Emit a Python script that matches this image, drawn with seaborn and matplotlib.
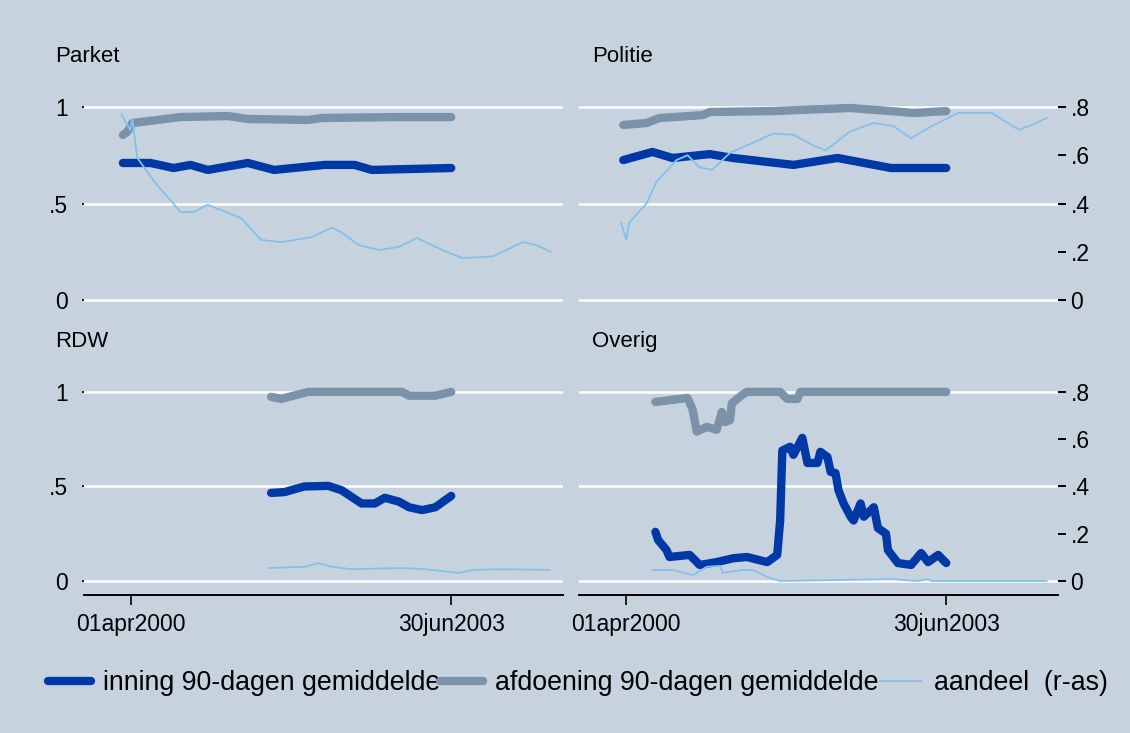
import numpy as np
import pandas as pd
import seaborn as sns
from matplotlib import pyplot as plt
from matplotlib.lines import Line2D

# colours
BG = '#c6d3df'
C_INNING = '#0039a6'
C_AFDOEN = '#7b92a9'
C_AANDEEL = '#86c0ea'

# ---- Parket
parket_inning_x = ['2000-03-01', '2000-06-11', '2000-09-05', '2000-11-07', '2001-01-09', '2001-06-07',
                   '2001-09-12', '2002-03-18', '2002-07-07', '2002-09-09', '2003-06-30']
parket_inning = [0.71, 0.71, 0.684, 0.70, 0.674, 0.71, 0.674, 0.70, 0.70, 0.674, 0.684]
parket_afdoen_x = ['2000-03-01', '2000-03-17', '2000-04-05', '2000-07-07', '2000-10-01', '2001-03-25',
                   '2001-06-07', '2002-01-17', '2002-03-06', '2002-12-18', '2003-06-30']
parket_afdoen = [0.855, 0.87, 0.917, 0.933, 0.948, 0.953, 0.938, 0.933, 0.943, 0.948, 0.948]
parket_aandeel_x = ['2000-02-24', '2000-03-28', '2000-04-05', '2000-04-23', '2000-06-29', '2000-10-01',
                    '2000-11-18', '2001-01-09', '2001-02-27', '2001-05-12', '2001-07-26', '2001-10-08',
                    '2002-01-28', '2002-04-13', '2002-05-20', '2002-07-22', '2002-10-05', '2002-12-18',
                    '2003-02-23', '2003-05-28', '2003-08-10', '2003-11-30', '2004-03-21', '2004-05-08',
                    '2004-07-03']
parket_aandeel = [0.77, 0.705, 0.75, 0.59, 0.485, 0.365, 0.365, 0.395, 0.373, 0.34, 0.249, 0.24,
                  0.26, 0.30, 0.28, 0.228, 0.207, 0.22, 0.257, 0.207, 0.174, 0.18, 0.24, 0.228, 0.20]

# ---- Politie
politie_inning_x = ['2000-03-21', '2000-07-07', '2000-09-19', '2001-02-04', '2001-05-01', '2001-12-11',
                    '2002-05-24', '2002-12-07', '2003-06-30']
politie_inning = [0.725, 0.767, 0.736, 0.756, 0.736, 0.70, 0.736, 0.684, 0.684]
politie_afdoen_x = ['2000-03-21', '2000-06-15', '2000-08-02', '2001-01-09', '2001-02-04', '2001-09-27',
                    '2002-07-11', '2003-03-03', '2003-06-30']
politie_afdoen = [0.907, 0.917, 0.943, 0.958, 0.974, 0.979, 0.995, 0.969, 0.979]
politie_aandeel_x = ['2000-03-13', '2000-04-01', '2000-04-12', '2000-06-15', '2000-07-22', '2000-10-04',
                     '2000-11-14', '2000-12-29', '2001-02-12', '2001-03-14', '2001-04-20', '2001-07-30',
                     '2001-09-27', '2001-12-11', '2002-02-23', '2002-04-09', '2002-07-11', '2002-10-05',
                     '2002-12-18', '2003-02-20', '2003-05-05', '2003-08-14', '2003-12-15', '2004-03-25',
                     '2004-05-12', '2004-07-07']
politie_aandeel = [0.32, 0.25, 0.32, 0.40, 0.49, 0.58, 0.60, 0.55, 0.54, 0.57, 0.61, 0.66, 0.69, 0.685,
                   0.64, 0.62, 0.70, 0.734, 0.72, 0.67, 0.72, 0.776, 0.776, 0.705, 0.726, 0.755]

# ---- RDW
rdw_inning_x = ['2001-09-01', '2001-10-20', '2002-01-02', '2002-04-01', '2002-05-20', '2002-08-02',
                '2002-09-20', '2002-10-27', '2002-12-18', '2003-01-25', '2003-03-14', '2003-05-02',
                '2003-06-30']
rdw_inning = [0.466, 0.47, 0.50, 0.503, 0.48, 0.41, 0.41, 0.44, 0.42, 0.39, 0.375, 0.39, 0.45]
rdw_afdoen_x = ['2001-09-01', '2001-10-08', '2002-01-17', '2002-12-30', '2003-01-25', '2003-05-02',
                '2003-06-30']
rdw_afdoen = [0.974, 0.963, 1.0, 1.0, 0.98, 0.98, 1.0]
rdw_aandeel_x = ['2001-08-25', '2002-01-02', '2002-02-23', '2002-04-13', '2002-06-26', '2002-12-30',
                 '2003-03-25', '2003-07-30', '2003-09-16', '2004-01-06', '2004-06-29']
rdw_aandeel = [0.055, 0.06, 0.076, 0.06, 0.05, 0.055, 0.05, 0.034, 0.047, 0.05, 0.047]

# ---- Overig
overig_inning_x = ['2000-07-18', '2000-07-28', '2000-08-28', '2000-09-08', '2000-11-22', '2000-12-29',
                   '2001-03-02', '2001-05-01', '2001-06-22', '2001-09-05', '2001-10-12', '2001-10-23',
                   '2001-10-31', '2001-11-29', '2001-12-11', '2002-01-13', '2002-02-01', '2002-03-10',
                   '2002-03-21', '2002-04-16', '2002-04-28', '2002-05-16', '2002-05-27', '2002-06-15',
                   '2002-07-11', '2002-07-22', '2002-08-17', '2002-08-29', '2002-10-05', '2002-10-20',
                   '2002-11-19', '2002-11-26', '2003-01-02', '2003-02-20', '2003-03-29', '2003-04-24',
                   '2003-05-31', '2003-06-30']
overig_inning = [0.26, 0.217, 0.164, 0.127, 0.138, 0.085, 0.10, 0.12, 0.127, 0.10, 0.138, 0.32,
                 0.69, 0.71, 0.667, 0.757, 0.624, 0.624, 0.683, 0.656, 0.577, 0.571, 0.48, 0.41,
                 0.34, 0.32, 0.41, 0.34, 0.39, 0.28, 0.25, 0.164, 0.095, 0.085, 0.148, 0.10, 0.138, 0.095]
overig_afdoen_x = ['2000-07-18', '2000-11-14', '2000-12-03', '2000-12-18', '2001-01-24', '2001-03-02',
                   '2001-03-21', '2001-04-01', '2001-04-20', '2001-04-27', '2001-06-04', '2001-06-22',
                   '2001-10-23', '2001-11-18', '2001-12-26', '2002-01-06', '2003-06-30']
overig_afdoen = [0.947, 0.968, 0.905, 0.79, 0.815, 0.80, 0.894, 0.84, 0.85, 0.94, 0.984, 1.0, 1.0,
                 0.963, 0.963, 1.0, 1.0]
overig_aandeel_x = ['2000-07-07', '2000-09-19', '2000-12-03', '2001-01-24', '2001-03-14', '2001-03-25',
                    '2001-06-07', '2001-07-15', '2001-09-05', '2001-10-23', '2002-12-07', '2003-03-18',
                    '2003-04-24', '2003-05-05', '2004-07-07']
overig_aandeel = [0.047, 0.047, 0.025, 0.06, 0.064, 0.034, 0.047, 0.047, 0.017, 0.0, 0.008, 0.0,
                  0.008, 0.0, 0.0]

panels = {
    'Parket': (parket_inning_x, parket_inning, parket_afdoen_x, parket_afdoen, parket_aandeel_x, parket_aandeel),
    'Politie': (politie_inning_x, politie_inning, politie_afdoen_x, politie_afdoen, politie_aandeel_x, politie_aandeel),
    'RDW': (rdw_inning_x, rdw_inning, rdw_afdoen_x, rdw_afdoen, rdw_aandeel_x, rdw_aandeel),
    'Overig': (overig_inning_x, overig_inning, overig_afdoen_x, overig_afdoen, overig_aandeel_x, overig_aandeel),
}
legend_labels = ['inning 90-dagen gemiddelde', 'afdoening 90-dagen gemiddelde', 'aandeel  (r-as)']

sns.set_style('white')
plt.rcParams['font.family'] = ['Liberation Sans', 'DejaVu Sans']
plt.rcParams['text.color'] = 'black'
plt.rcParams['xtick.color'] = 'black'
plt.rcParams['ytick.color'] = 'black'

W, H = 1130, 733
fig = plt.figure(figsize=(W / 100, H / 100), dpi=100, facecolor=BG)

# axes boxes in pixels: left, top, right, bottom
boxes = {'Parket': (84, 88, 563, 314), 'Politie': (579, 88, 1058, 314),
         'RDW': (84, 373, 563, 595), 'Overig': (579, 373, 1058, 595)}
ylims = {'Parket': (-0.0725, 1.0985), 'Politie': (-0.0725, 1.0985),
         'RDW': (-0.074, 1.1), 'Overig': (-0.074, 1.1)}
title_pos = {'Parket': (55, 56), 'Politie': (592, 56), 'RDW': (55, 341), 'Overig': (592, 341)}

xmin, xmax = pd.Timestamp('1999-10-09'), pd.Timestamp('2004-08-17')
tick_dates = [pd.Timestamp('2000-04-01'), pd.Timestamp('2003-06-30')]

thick = dict(lw=6.0, solid_capstyle='round', solid_joinstyle='round')

for name, (ix, iy, ax_, ay, sx, sy) in panels.items():
    l, t, r, b = boxes[name]
    ax = fig.add_axes([l / W, 1 - b / H, (r - l) / W, (b - t) / H])
    ax.patch.set_alpha(0)
    sns.lineplot(x=pd.to_datetime(ax_), y=ay, ax=ax, color=C_AFDOEN, **thick)
    sns.lineplot(x=pd.to_datetime(ix), y=iy, ax=ax, color=C_INNING, **thick)
    ax.set_ylim(*ylims[name])
    ax.set_xlim(xmin, xmax)
    ax.set_yticks([0, 0.5, 1])
    ax.set_yticklabels(['0', '.5', '1'])
    ax.yaxis.grid(True, color='white', lw=1.8)
    ax.xaxis.grid(False)
    ax.set_axisbelow(True)
    for s in ax.spines.values():
        s.set_visible(False)

    tw = ax.twinx()
    sns.lineplot(x=pd.to_datetime(sx), y=sy, ax=tw, color=C_AANDEEL, lw=1.3)
    lo, hi = ylims[name]
    tw.set_ylim(lo * 0.8, hi * 0.8)
    tw.set_yticks([0, 0.2, 0.4, 0.6, 0.8])
    tw.set_yticklabels(['0', '.2', '.4', '.6', '.8'])
    tw.set_xlim(xmin, xmax)
    for s in tw.spines.values():
        s.set_visible(False)
    tw.grid(False)
    for a in (ax, tw):
        a.set_xlabel('')
        a.set_ylabel('')

    left_col = name in ('Parket', 'RDW')
    bottom_row = name in ('RDW', 'Overig')
    ax.tick_params(axis='y', left=left_col, labelleft=left_col, length=1.5, width=1.2,
                   color='black', labelcolor='black', pad=10, labelsize=16.5)
    tw.tick_params(axis='y', right=not left_col, labelright=not left_col, length=6, width=1.4,
                   color='black', labelcolor='black', pad=3, labelsize=16.5)
    if bottom_row:
        ax.spines['bottom'].set_visible(True)
        ax.spines['bottom'].set_color('black')
        ax.spines['bottom'].set_linewidth(1.4)
        ax.set_xticks(tick_dates)
        ax.set_xticklabels(['01apr2000', '30jun2003'])
        ax.tick_params(axis='x', bottom=True, length=7, width=1.2, color='black',
                       labelcolor='black', pad=6, labelsize=16.5)
    else:
        ax.tick_params(axis='x', bottom=False, labelbottom=False)
    tw.tick_params(axis='x', bottom=False, labelbottom=False, top=False)

    tx, ty = title_pos[name]
    fig.text(tx / W, 1 - ty / H, name, ha='left', va='center', fontsize=16, color='black')

handles = [Line2D([], [], color=C_INNING, lw=6, solid_capstyle='round'),
           Line2D([], [], color=C_AFDOEN, lw=6, solid_capstyle='round'),
           Line2D([], [], color=C_AANDEEL, lw=1.3)]
leg = fig.legend(handles, legend_labels, loc='center', bbox_to_anchor=(578 / W, 1 - 683 / H), ncol=3,
                 frameon=False, fontsize=19.3, handlelength=1.6, handletextpad=0.45, columnspacing=0.0,
                 borderpad=0)
for txt in leg.get_texts():
    txt.set_color('black')

fig.savefig('out.png', dpi=100, facecolor=BG)
